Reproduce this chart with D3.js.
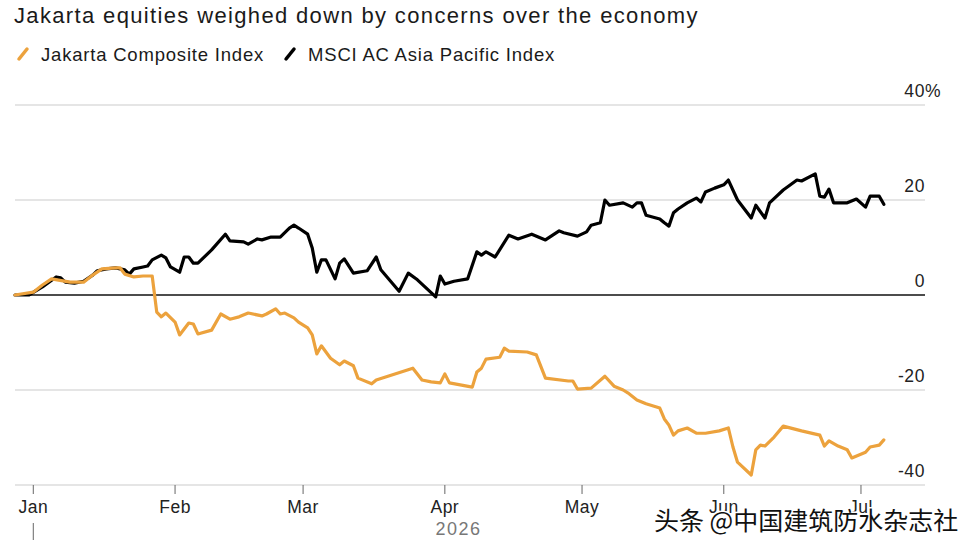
<!DOCTYPE html>
<html>
<head>
<meta charset="utf-8">
<script src="https://cdn.jsdelivr.net/npm/d3@7"></script>
<style>
  body { margin: 0; background: #fff; }
  svg { font-family: "Liberation Sans", Arial, sans-serif; }
</style>
</head>
<body>
<svg id="chart" width="975" height="549"></svg>
<script>
var title = "Jakarta equities weighed down by concerns over the economy";
var seriesNames = ["Jakarta Composite Index", "MSCI AC Asia Pacific Index"];
var yTicks = [-40, -20, 0, 20, 40];
var yearLabel = "2026";
var watermark = "头条 @中国建筑防水杂志社";

// Jakarta Composite Index, % change since start of year
var jci = [
  ["2025-12-28", 0], ["2026-01-01", 0.6], ["2026-01-03", 2.1], ["2026-01-05", 3.4],
  ["2026-01-09", 2.7], ["2026-01-12", 2.7], ["2026-01-14", 4.2], ["2026-01-16", 5.5],
  ["2026-01-19", 5.7], ["2026-01-20", 5.7], ["2026-01-21", 4.4], ["2026-01-23", 3.8],
  ["2026-01-25", 4.0], ["2026-01-27", 4.0], ["2026-01-28", -3.6], ["2026-01-29", -4.6],
  ["2026-01-30", -3.8], ["2026-02-01", -5.7], ["2026-02-02", -8.4], ["2026-02-04", -5.9],
  ["2026-02-05", -6.1], ["2026-02-06", -8.2], ["2026-02-09", -7.4], ["2026-02-11", -4.0],
  ["2026-02-13", -5.1], ["2026-02-15", -4.6], ["2026-02-17", -3.8], ["2026-02-20", -4.4],
  ["2026-02-21", -4.0], ["2026-02-23", -2.9], ["2026-02-24", -4.0], ["2026-02-25", -3.8],
  ["2026-02-27", -4.8], ["2026-02-28", -5.7], ["2026-03-02", -6.9], ["2026-03-03", -8.4],
  ["2026-03-04", -12.4], ["2026-03-05", -10.7], ["2026-03-07", -13.3], ["2026-03-09", -14.7],
  ["2026-03-10", -13.9], ["2026-03-12", -14.9], ["2026-03-13", -17.5], ["2026-03-16", -18.7],
  ["2026-03-17", -17.9], ["2026-03-25", -15.4], ["2026-03-27", -17.9], ["2026-03-29", -18.3],
  ["2026-03-31", -18.5], ["2026-04-01", -16.6], ["2026-04-02", -18.5], ["2026-04-07", -19.4],
  ["2026-04-08", -16.2], ["2026-04-09", -15.4], ["2026-04-10", -13.5], ["2026-04-13", -13.1],
  ["2026-04-14", -11.2], ["2026-04-15", -11.8], ["2026-04-19", -12.0], ["2026-04-21", -12.6],
  ["2026-04-23", -17.5], ["2026-04-28", -18.1], ["2026-04-29", -18.1], ["2026-04-30", -19.8],
  ["2026-05-03", -19.6], ["2026-05-06", -17.1], ["2026-05-08", -19.2], ["2026-05-10", -20.0],
  ["2026-05-11", -20.6], ["2026-05-13", -22.1], ["2026-05-15", -22.9], ["2026-05-18", -23.8],
  ["2026-05-19", -26.1], ["2026-05-20", -27.4], ["2026-05-21", -29.5], ["2026-05-22", -28.6],
  ["2026-05-24", -28.0], ["2026-05-26", -29.1], ["2026-05-28", -29.1], ["2026-05-31", -28.6],
  ["2026-06-02", -28.0], ["2026-06-03", -32.0], ["2026-06-04", -35.2], ["2026-06-07", -37.9],
  ["2026-06-08", -32.6], ["2026-06-09", -31.6], ["2026-06-10", -31.8], ["2026-06-12", -29.9],
  ["2026-06-14", -27.6], ["2026-06-18", -28.6], ["2026-06-22", -29.5], ["2026-06-23", -31.8],
  ["2026-06-24", -30.7], ["2026-06-26", -31.8], ["2026-06-28", -32.6], ["2026-06-29", -34.3],
  ["2026-07-02", -33.1], ["2026-07-03", -32.0], ["2026-07-05", -31.6], ["2026-07-06", -30.5]
];

// MSCI AC Asia Pacific Index, % change since start of year
var msci = [
  ["2025-12-28", 0], ["2025-12-31", 0], ["2026-01-03", 1.7], ["2026-01-06", 3.8],
  ["2026-01-07", 3.6], ["2026-01-08", 2.7], ["2026-01-10", 2.5], ["2026-01-12", 2.9],
  ["2026-01-14", 4.2], ["2026-01-15", 5.1], ["2026-01-17", 5.5], ["2026-01-19", 5.7],
  ["2026-01-21", 5.3], ["2026-01-22", 4.4], ["2026-01-23", 5.5], ["2026-01-25", 5.9],
  ["2026-01-26", 6.1], ["2026-01-27", 7.4], ["2026-01-29", 8.4], ["2026-01-30", 7.8],
  ["2026-01-31", 5.9], ["2026-02-02", 4.8], ["2026-02-03", 8.0], ["2026-02-04", 8.0],
  ["2026-02-05", 6.7], ["2026-02-06", 6.7], ["2026-02-09", 9.5], ["2026-02-12", 12.8],
  ["2026-02-13", 11.4], ["2026-02-16", 11.2], ["2026-02-17", 10.7], ["2026-02-19", 11.8],
  ["2026-02-20", 11.6], ["2026-02-22", 12.2], ["2026-02-24", 12.2], ["2026-02-26", 14.1],
  ["2026-02-27", 14.7], ["2026-02-28", 14.1], ["2026-03-02", 12.8], ["2026-03-03", 9.9],
  ["2026-03-04", 4.8], ["2026-03-05", 7.4], ["2026-03-06", 7.4], ["2026-03-08", 3.4],
  ["2026-03-09", 6.7], ["2026-03-10", 7.6], ["2026-03-12", 4.6], ["2026-03-15", 5.1],
  ["2026-03-17", 8.0], ["2026-03-18", 5.3], ["2026-03-22", 0.8], ["2026-03-24", 4.6],
  ["2026-03-26", 3.2], ["2026-03-30", -0.4], ["2026-03-31", 4.0], ["2026-04-01", 2.3],
  ["2026-04-03", 2.9], ["2026-04-06", 3.4], ["2026-04-08", 9.1], ["2026-04-09", 8.4],
  ["2026-04-10", 9.1], ["2026-04-12", 8.0], ["2026-04-15", 12.6], ["2026-04-17", 11.8],
  ["2026-04-20", 12.8], ["2026-04-23", 11.6], ["2026-04-26", 13.5], ["2026-04-27", 13.1],
  ["2026-04-30", 12.4], ["2026-05-02", 13.3], ["2026-05-03", 14.7], ["2026-05-05", 15.2],
  ["2026-05-06", 20.0], ["2026-05-07", 18.9], ["2026-05-10", 19.4], ["2026-05-12", 18.5],
  ["2026-05-13", 19.4], ["2026-05-14", 19.4], ["2026-05-15", 16.8], ["2026-05-18", 16.0],
  ["2026-05-19", 15.2], ["2026-05-20", 14.5], ["2026-05-21", 17.3], ["2026-05-22", 18.1],
  ["2026-05-24", 19.4], ["2026-05-26", 20.4], ["2026-05-27", 19.6], ["2026-05-28", 21.7],
  ["2026-05-30", 22.5], ["2026-06-01", 23.2], ["2026-06-02", 24.2], ["2026-06-04", 20.0],
  ["2026-06-07", 16.2], ["2026-06-08", 18.9], ["2026-06-10", 16.2], ["2026-06-11", 19.4],
  ["2026-06-14", 22.1], ["2026-06-17", 24.2], ["2026-06-18", 24.0], ["2026-06-21", 25.5],
  ["2026-06-22", 20.8], ["2026-06-23", 20.6], ["2026-06-24", 22.3], ["2026-06-25", 19.4],
  ["2026-06-28", 19.4], ["2026-06-30", 20.2], ["2026-07-02", 18.5], ["2026-07-03", 20.8],
  ["2026-07-05", 20.8], ["2026-07-06", 19.1]
];

var parse = d3.timeParse("%Y-%m-%d");
var colors = ["#eca23d", "#000"];

var svg = d3.select("#chart");

var x = d3.scaleTime()
    .domain([parse("2025-12-28"), parse("2026-07-15")])
    .range([15, 925]);

var y = d3.scaleLinear()
    .domain([-40, 40])
    .range([485, 105]);

// title + legend
svg.append("text")
    .attr("x", 14).attr("y", 23)
    .attr("font-size", 22)
    .attr("letter-spacing", 1.35)
    .attr("fill", "#1a1a1a")
    .text(title);

var legend = svg.append("g").attr("transform", "translate(18, 61)");
var lx = 0;
seriesNames.forEach(function(name, i) {
  var g = legend.append("g").attr("transform", `translate(${lx}, 0)`);
  g.append("line")
      .attr("x1", 1).attr("y1", -2).attr("x2", 9).attr("y2", -12)
      .attr("stroke", colors[i]).attr("stroke-width", 3.5)
      .attr("stroke-linecap", "round");
  var t = g.append("text")
      .attr("x", 23).attr("font-size", 18.5)
      .attr("letter-spacing", 0.8)
      .attr("fill", "#1a1a1a")
      .text(name);
  lx += 23 + t.node().getComputedTextLength() + 21;
});

// gridlines
svg.append("g").selectAll("line")
    .data(yTicks)
    .enter().append("line")
    .attr("x1", 15).attr("x2", 925)
    .attr("y1", function(d) { return y(d); })
    .attr("y2", function(d) { return y(d); })
    .attr("stroke", function(d) { return d === 0 ? "#111" : "#dcdcdc"; })
    .attr("stroke-width", 1.5);

// y labels, right aligned, % hanging past the edge
svg.append("g").selectAll("text")
    .data(yTicks)
    .enter().append("text")
    .attr("x", 925)
    .attr("y", function(d) { return y(d) - 8; })
    .attr("text-anchor", "end")
    .attr("font-size", 17.5)
    .attr("letter-spacing", 0.6)
    .attr("fill", "#222")
    .text(function(d) { return d; });
svg.append("text")
    .attr("x", 925).attr("y", y(40) - 8)
    .attr("font-size", 17.5).attr("fill", "#222")
    .text("%");

// x axis
var months = d3.timeMonth.range(parse("2026-01-01"), parse("2026-07-02"));
var xAxis = svg.append("g");
xAxis.selectAll("line")
    .data(months)
    .enter().append("line")
    .attr("x1", function(d) { return x(d); })
    .attr("x2", function(d) { return x(d); })
    .attr("y1", 485).attr("y2", 494)
    .attr("stroke", "#666").attr("stroke-width", 1);
xAxis.selectAll("text")
    .data(months)
    .enter().append("text")
    .attr("x", function(d) { return x(d); })
    .attr("y", 513)
    .attr("text-anchor", "middle")
    .attr("font-size", 17.5)
    .attr("letter-spacing", 0.5)
    .attr("fill", "#222")
    .text(d3.timeFormat("%b"));

svg.append("line")
    .attr("x1", x(months[0])).attr("x2", x(months[0]))
    .attr("y1", 523).attr("y2", 540)
    .attr("stroke", "#666").attr("stroke-width", 1);

var lastDate = parse(jci[jci.length - 1][0]);
svg.append("text")
    .attr("x", (x(months[0]) + x(lastDate)) / 2)
    .attr("y", 535)
    .attr("text-anchor", "middle")
    .attr("font-size", 18)
    .attr("fill", "#777")
    .attr("letter-spacing", 1.5)
    .text(yearLabel);

// lines
var line = d3.line()
    .x(function(d) { return x(parse(d[0])); })
    .y(function(d) { return y(d[1]); })
    .curve(d3.curveLinear);

[msci, jci].forEach(function(data, i) {
  svg.append("path")
      .datum(data)
      .attr("fill", "none")
      .attr("stroke", i === 0 ? colors[1] : colors[0])
      .attr("stroke-width", 3.2)
      .attr("stroke-linejoin", "round")
      .attr("stroke-linecap", "round")
      .attr("d", line);
});

// watermark
svg.append("text")
    .attr("x", 654).attr("y", 530)
    .attr("font-family", "'Noto Sans CJK SC', sans-serif")
    .attr("font-size", 25)
    .attr("fill", "#111")
    .attr("stroke", "#fff")
    .attr("stroke-width", 3)
    .attr("paint-order", "stroke")
    .text(watermark);
</script>
</body>
</html>
